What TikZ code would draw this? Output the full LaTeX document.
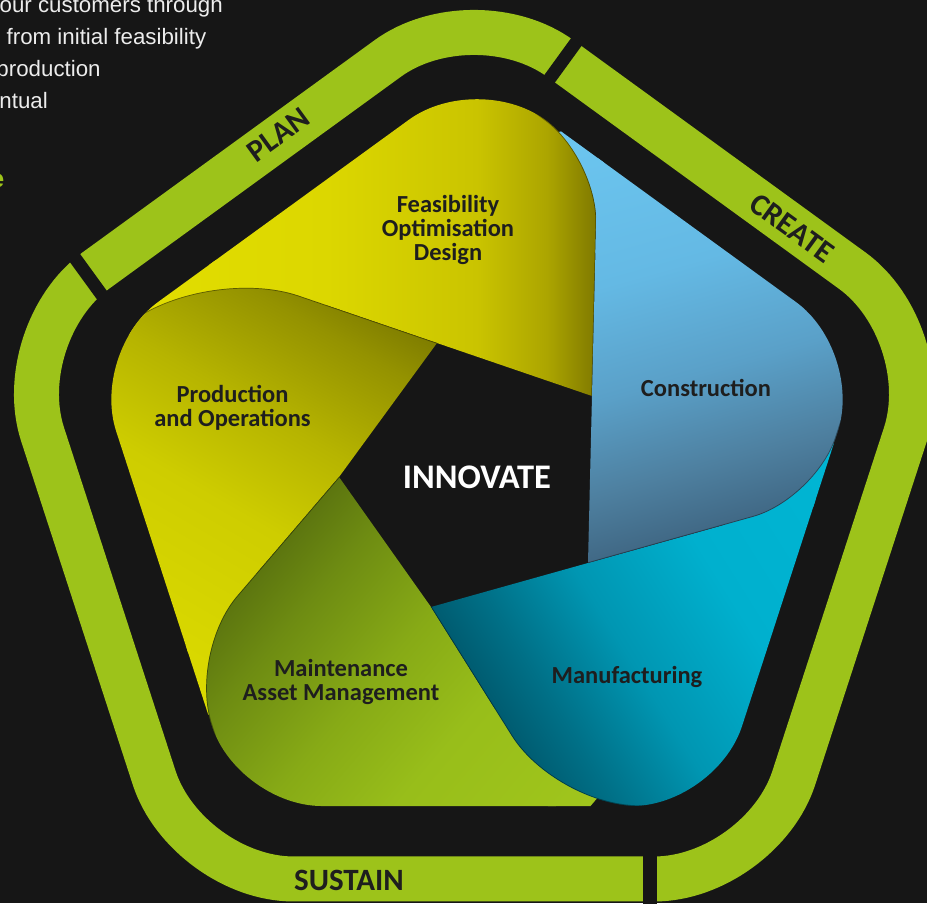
\documentclass[tikz,border=0pt]{standalone}
\usepackage{fontspec}
\setmainfont{Carlito}
\newfontfamily\parafont{Liberation Sans}
\usetikzlibrary{calc}

\definecolor{bgc}{RGB}{22,22,22}
\definecolor{ringc}{RGB}{157,195,26}
\definecolor{labc}{RGB}{30,30,30}
\definecolor{parac}{RGB}{236,236,236}

\definecolor{F1}{RGB}{230,226,0}
\definecolor{F2}{RGB}{220,215,0}
\definecolor{F3}{RGB}{202,196,0}
\definecolor{F4}{RGB}{172,165,0}
\definecolor{F5}{RGB}{122,116,0}
\pgfdeclarehorizontalshading{shF}{100bp}{color(0bp)=(F1); color(25bp)=(F1); color(51.5bp)=(F2); color(64.3bp)=(F3); color(70.3bp)=(F4); color(75bp)=(F5); color(100bp)=(F5)}

\definecolor{P1}{RGB}{220,219,0}
\definecolor{P2}{RGB}{206,205,0}
\definecolor{P3}{RGB}{182,180,0}
\definecolor{P4}{RGB}{148,146,0}
\definecolor{P5}{RGB}{116,114,0}
\pgfdeclarehorizontalshading{shP}{100bp}{color(0bp)=(P1); color(25bp)=(P1); color(45.65bp)=(P2); color(56.5bp)=(P3); color(67.4bp)=(P4); color(75bp)=(P5); color(100bp)=(P5)}

\definecolor{M1}{RGB}{160,197,28}
\definecolor{M2}{RGB}{152,190,26}
\definecolor{M3}{RGB}{135,170,22}
\definecolor{M4}{RGB}{110,140,18}
\definecolor{M5}{RGB}{85,108,14}
\pgfdeclarehorizontalshading{shMt}{100bp}{color(0bp)=(M1); color(25bp)=(M1); color(42.2bp)=(M2); color(53.7bp)=(M3); color(65.2bp)=(M4); color(75bp)=(M5); color(100bp)=(M5)}

\definecolor{N1}{RGB}{0,182,212}
\definecolor{N2}{RGB}{0,176,206}
\definecolor{N3}{RGB}{0,150,178}
\definecolor{N4}{RGB}{0,112,135}
\definecolor{N5}{RGB}{0,85,105}
\pgfdeclarehorizontalshading{shMf}{100bp}{color(0bp)=(N1); color(25bp)=(N1); color(43.9bp)=(N2); color(57.2bp)=(N3); color(67.2bp)=(N4); color(75bp)=(N5); color(100bp)=(N5)}

\definecolor{C1}{RGB}{108,198,240}
\definecolor{C2}{RGB}{100,185,228}
\definecolor{C3}{RGB}{90,160,200}
\definecolor{C4}{RGB}{78,128,160}
\definecolor{C5}{RGB}{62,100,128}
\pgfdeclarehorizontalshading{shC}{100bp}{color(0bp)=(C1); color(25bp)=(C1); color(43.4bp)=(C2); color(56bp)=(C3); color(66.4bp)=(C4); color(75bp)=(C5); color(100bp)=(C5)}

\tikzset{
  ring/.style={draw=ringc, line width=45pt, rounded corners=106.4pt},
  gapline/.style={draw=bgc, line width=13pt},
  headedge/.style={draw=black, draw opacity=0.4, line width=1.4pt},
  ringlab/.style={font=\bfseries\fontsize{31}{31}\selectfont, text=labc, inner sep=0pt},
  petallab/.style={font=\bfseries\fontsize{24.5}{24}\selectfont, text=labc, align=center, inner sep=0pt},
  innov/.style={font=\bfseries\fontsize{34.5}{34.5}\selectfont, text=white, inner sep=0pt},
  para/.style={font=\parafont\fontsize{22.3}{26}\selectfont, text=parac, inner sep=0pt, anchor=base west},
  greenhead/.style={font=\parafont\bfseries\fontsize{25}{30}\selectfont, text=ringc, inner sep=0pt, anchor=base east},
}

\newcommand\outerclip{\clip[rounded corners=84pt] ($(T0)!0.5!(T1)$) -- (T1) -- (T2) -- (T3) -- (T4) -- (T0) -- cycle;}
\newcommand\headclip[4]{\clip[rounded corners=#4] ($(#1)!1500pt!(#2)$) -- (#1) -- ($(#1)!1500pt!(#3)$) -- ($(#1)!1500pt!(#3)+(#1)!1500pt!(#2)-(#1)$) -- cycle;}
\newcommand\headline[4]{\draw[headedge, rounded corners=#4] ($(#1)!1500pt!(#2)$) -- (#1) -- ($(#1)!1500pt!(#3)$);}
\newcommand\halfclip[2]{\clip ($(#1)!-2000pt!(#2)$) -- ($(#1)!2000pt!(#2)$) -- ($(#1)!2000pt!(#2)+7*(#1)+7*(#2)$) -- ($(#1)!-2000pt!(#2)+7*(#1)+7*(#2)$) -- cycle;}
\newcommand\gapclip[4]{\clip ($(#1)!-8pt!(#3)$) -- ($(#1)!#4!(#2)+(#1)!-8pt!(#3)-(#1)$) -- ($(#1)!#4!(#2)$) -- ($(#1)!#4!(#3)$) -- cycle;}
\newcommand\paintF{\shade[shading=shF] (-460,-900) rectangle (125,900);}
\newcommand\paintP{\begin{scope}[transform canvas={rotate=60}]\shade[shading=shP] (-340,-900) rectangle (120,900);\end{scope}}
\newcommand\paintMt{\begin{scope}[transform canvas={rotate=139.5}]\shade[shading=shMt] (-300,-900) rectangle (130,900);\end{scope}}
\newcommand\paintMf{\begin{scope}[transform canvas={rotate=212}]\shade[shading=shMf] (-320,-900) rectangle (125,900);\end{scope}}
\newcommand\paintC{\begin{scope}[transform canvas={rotate=-74.3}]\shade[shading=shC] (-310,-900) rectangle (125,900);\end{scope}}

\begin{document}
\begin{tikzpicture}[x=1pt,y=1pt]
\path[use as bounding box, fill=bgc] (-477,-426) rectangle (450,477);

% ring
\coordinate (RC) at (-3,-7);
\foreach \i/\a in {0/90,1/162,2/234,3/306,4/18} {\coordinate (R\i) at ($(RC)+(\a:488.2pt)$);}
\draw[ring] ($(R0)!0.5!(R1)$) -- (R1) -- (R2) -- (R3) -- (R4) -- (R0) -- cycle;
\coordinate (g1a) at ($(RC)+(270:355pt)+(0:176pt)$);
\coordinate (g1b) at ($(RC)+(270:445pt)+(0:176pt)$);
\coordinate (g2a) at ($(RC)+(54:355pt)+(144:177pt)$);
\coordinate (g2b) at ($(RC)+(54:445pt)+(144:177pt)$);
\coordinate (g3a) at ($(RC)+(126:355pt)+(216:190pt)$);
\coordinate (g3b) at ($(RC)+(126:445pt)+(216:190pt)$);
\draw[gapline] (g1a) -- (g1b);
\draw[gapline] (g2a) -- (g2b);
\draw[gapline] (g3a) -- (g3b);
\node[ringlab, rotate=36] (plan) at (-199,342) {PLAN};
\node[ringlab, rotate=-36] (create) at (315,249) {CREATE};
\node[ringlab] (sustain) at (-128,-403) {SUSTAIN};

% petal geometry
\coordinate (A) at (-40,134);
\coordinate (B) at (115,81);
\coordinate (C) at (111,-86);
\coordinate (D) at (-46,-130);
\coordinate (E) at (-138,0);
\coordinate (E2) at ($(E)+(-85.6,-100)$);
\coordinate (D2) at ($(D)+(62.7,-100)$);
\foreach \i/\a in {0/90,1/162,2/234,3/306,4/18} {\coordinate (T\i) at (\a:406.7pt);}
\coordinate (HF) at (intersection of B--C and T0--T4);
\coordinate (HC) at (intersection of C--D and T3--T4);
\coordinate (HMf) at (intersection of D--D2 and T2--T3);
\coordinate (HMt) at (intersection of E--E2 and T1--T2);
\coordinate (HP) at (intersection of A--B and T0--T1);

% what shows under the rounded heads
\begin{scope}\outerclip\gapclip{HP}{A}{T1}{125pt}\paintF\end{scope}
\begin{scope}\outerclip\gapclip{HF}{B}{T0}{95pt}\paintC\end{scope}
\begin{scope}\outerclip\gapclip{HC}{C}{T4}{95pt}\paintMf\end{scope}
\begin{scope}\outerclip\gapclip{HMf}{D}{T3}{115pt}\paintMt\end{scope}
\begin{scope}\outerclip\gapclip{HMt}{E}{T2}{105pt}\paintP\end{scope}

% petals
\begin{scope}\outerclip\headclip{HF}{B}{T0}{65pt}\halfclip{A}{B}\paintF\headline{HF}{B}{T0}{65pt}\end{scope}
\begin{scope}\outerclip\headclip{HP}{A}{T1}{95pt}
  \clip ($(E)!2000pt!(A)$) -- (E) -- ($(E)!2000pt!(E2)$) -- ++(-3000,0) -- ($(E)!2000pt!(A)+(-5000,0)$) -- cycle;
  \paintP\headline{HP}{A}{T1}{95pt}\end{scope}
\begin{scope}\outerclip\headclip{HMt}{E}{T2}{75pt}
  \clip ($(D)!2000pt!(E)$) -- (D) -- ($(D)!2000pt!(D2)$) -- ++(-3000,0) -- ($(D)!2000pt!(E)+(-3000,0)$) -- cycle;
  \paintMt\headline{HMt}{E}{T2}{75pt}\end{scope}
\begin{scope}\outerclip\headclip{HMf}{D}{T3}{83pt}\halfclip{D}{C}\paintMf\headline{HMf}{D}{T3}{83pt}\end{scope}
\begin{scope}\outerclip\headclip{HC}{C}{T4}{65pt}\halfclip{C}{B}\paintC\headline{HC}{C}{T4}{65pt}\end{scope}

% labels
\node[petallab] (feas) at (-29,247.5) {Feasibility\\Optimisation\\Design};
\node[petallab] (prod) at (-244.5,69.5) {Production\\and Operations};
\node[petallab] (cons) at (229,89.5) {Construction};
\node[innov] (innov) at (0,0) {INNOVATE};
\node[petallab] (maint) at (-136,-205) {Maintenance\\Asset Management};
\node[petallab] (manu) at (150,-199.5) {Manufacturing};

% cut-off paragraph
\node[para] (l1) at (-477.5,464.3) {our customers through};
\node[para] (l2) at (-470.5,432) {from initial feasibility};
\node[para] (l3) at (-480.7,400) {production};
\node[para] (l4) at (-477.7,368.5) {ntual};
\node[greenhead] (ge) at (-472.5,289) {e};
\end{tikzpicture}
\end{document}
